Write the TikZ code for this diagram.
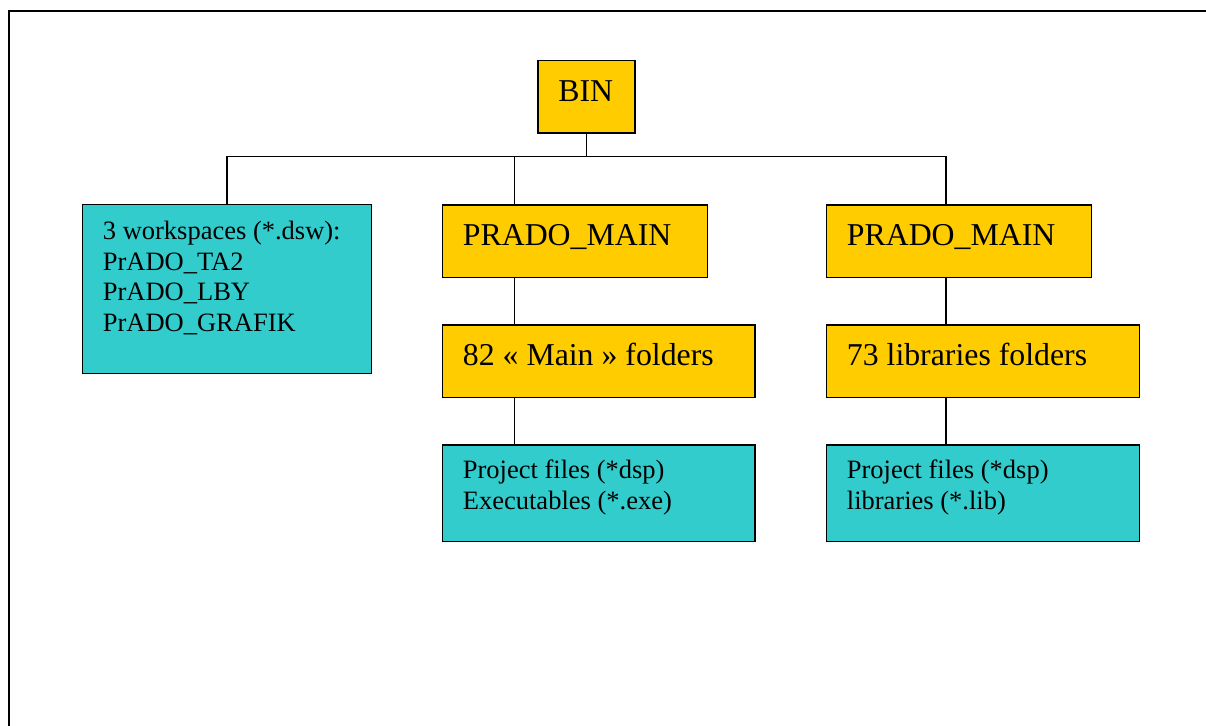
\documentclass[tikz,border=0pt]{standalone}
\usepackage{fontspec}
\setmainfont{Liberation Serif}
\definecolor{folderfill}{HTML}{FFCC00}
\definecolor{filefill}{HTML}{33CCCC}
\tikzset{
  box/.style={draw=black, line width=1.4pt, inner sep=0pt, anchor=north west},
  folder/.style={box, fill=folderfill},
  files/.style={box, fill=filefill},
  bigtxt/.style={inner sep=0pt, anchor=base west, font=\fontsize{31.8pt}{36pt}\selectfont},
  smalltxt/.style={inner sep=0pt, anchor=base west, font=\fontsize{26.5pt}{30pt}\selectfont},
  link/.style={draw=black, line width=1.2pt},
}
\begin{document}
\begin{tikzpicture}[x=1pt, y=-1pt]
  \useasboundingbox (0,0) rectangle (1206,725);
  \clip (0,0) rectangle (1206,725);
  % outer frame
  \draw[line width=2pt] (8.5,11) rectangle (1220,740);

  % boxes
  \node[folder, minimum width=97pt,    minimum height=72.3pt] (bin) at (537.3,60) {};
  \node[files,  minimum width=289pt,   minimum height=168.7pt] (ws)  at (81.7,204) {};
  \node[folder, minimum width=265pt,   minimum height=72.5pt] (pmA) at (441.7,204.2) {};
  \node[folder, minimum width=265pt,   minimum height=72.5pt] (pmB) at (825.7,204.2) {};
  \node[folder, minimum width=312.6pt, minimum height=72.2pt] (mf)  at (441.7,324.3) {};
  \node[folder, minimum width=313.3pt, minimum height=72.2pt] (lf)  at (825.7,324.3) {};
  \node[files,  minimum width=312.6pt, minimum height=96.2pt] (pfA) at (441.7,444.3) {};
  \node[files,  minimum width=313.3pt, minimum height=96.2pt] (pfB) at (825.7,444.3) {};

  % texts
  \node[bigtxt, anchor=base] (tbin) at (585.8,101.7) {BIN};
  \node[smalltxt] (ws1) at (102.7,239.3) {3 workspaces (*.dsw):};
  \node[smalltxt] (ws2) at (102.7,270.0) {PrADO\_TA2};
  \node[smalltxt] (ws3) at (102.7,300.7) {PrADO\_LBY};
  \node[smalltxt] (ws4) at (102.7,331.5) {PrADO\_GRAFIK};
  \node[bigtxt] (tpmA) at (462.7,245) {PRADO\_MAIN};
  \node[bigtxt] (tpmB) at (846.7,245) {PRADO\_MAIN};
  \node[bigtxt] (tmf) at (462.7,365) {82 « Main » folders};
  \node[bigtxt] (tlf) at (846.7,365) {73 libraries folders};
  \node[smalltxt] (pfA1) at (462.7,478.8) {Project files (*dsp)};
  \node[smalltxt] (pfA2) at (462.7,509.8) {Executables (*.exe)};
  \node[smalltxt] (pfB1) at (846.7,478.8) {Project files (*dsp)};
  \node[smalltxt] (pfB2) at (846.7,509.8) {libraries (*.lib)};

  % connectors
  \coordinate (bus) at (0,156.7);
  \coordinate (colA) at (514.3,0);
  \coordinate (colB) at (946,0);
  \draw[link] (bin.south) -- (bin.south |- bus);
  \draw[link] (ws.north) -- (ws.north |- bus) -- (colB |- bus) -- (colB |- pmB.north);
  \draw[link] (colA |- bus) -- (colA |- pmA.north);
  \draw[link] (colA |- pmA.south) -- (colA |- mf.north);
  \draw[link] (colA |- mf.south) -- (colA |- pfA.north);
  \draw[link] (colB |- pmB.south) -- (colB |- lf.north);
  \draw[link] (colB |- lf.south) -- (colB |- pfB.north);
\end{tikzpicture}
\end{document}
